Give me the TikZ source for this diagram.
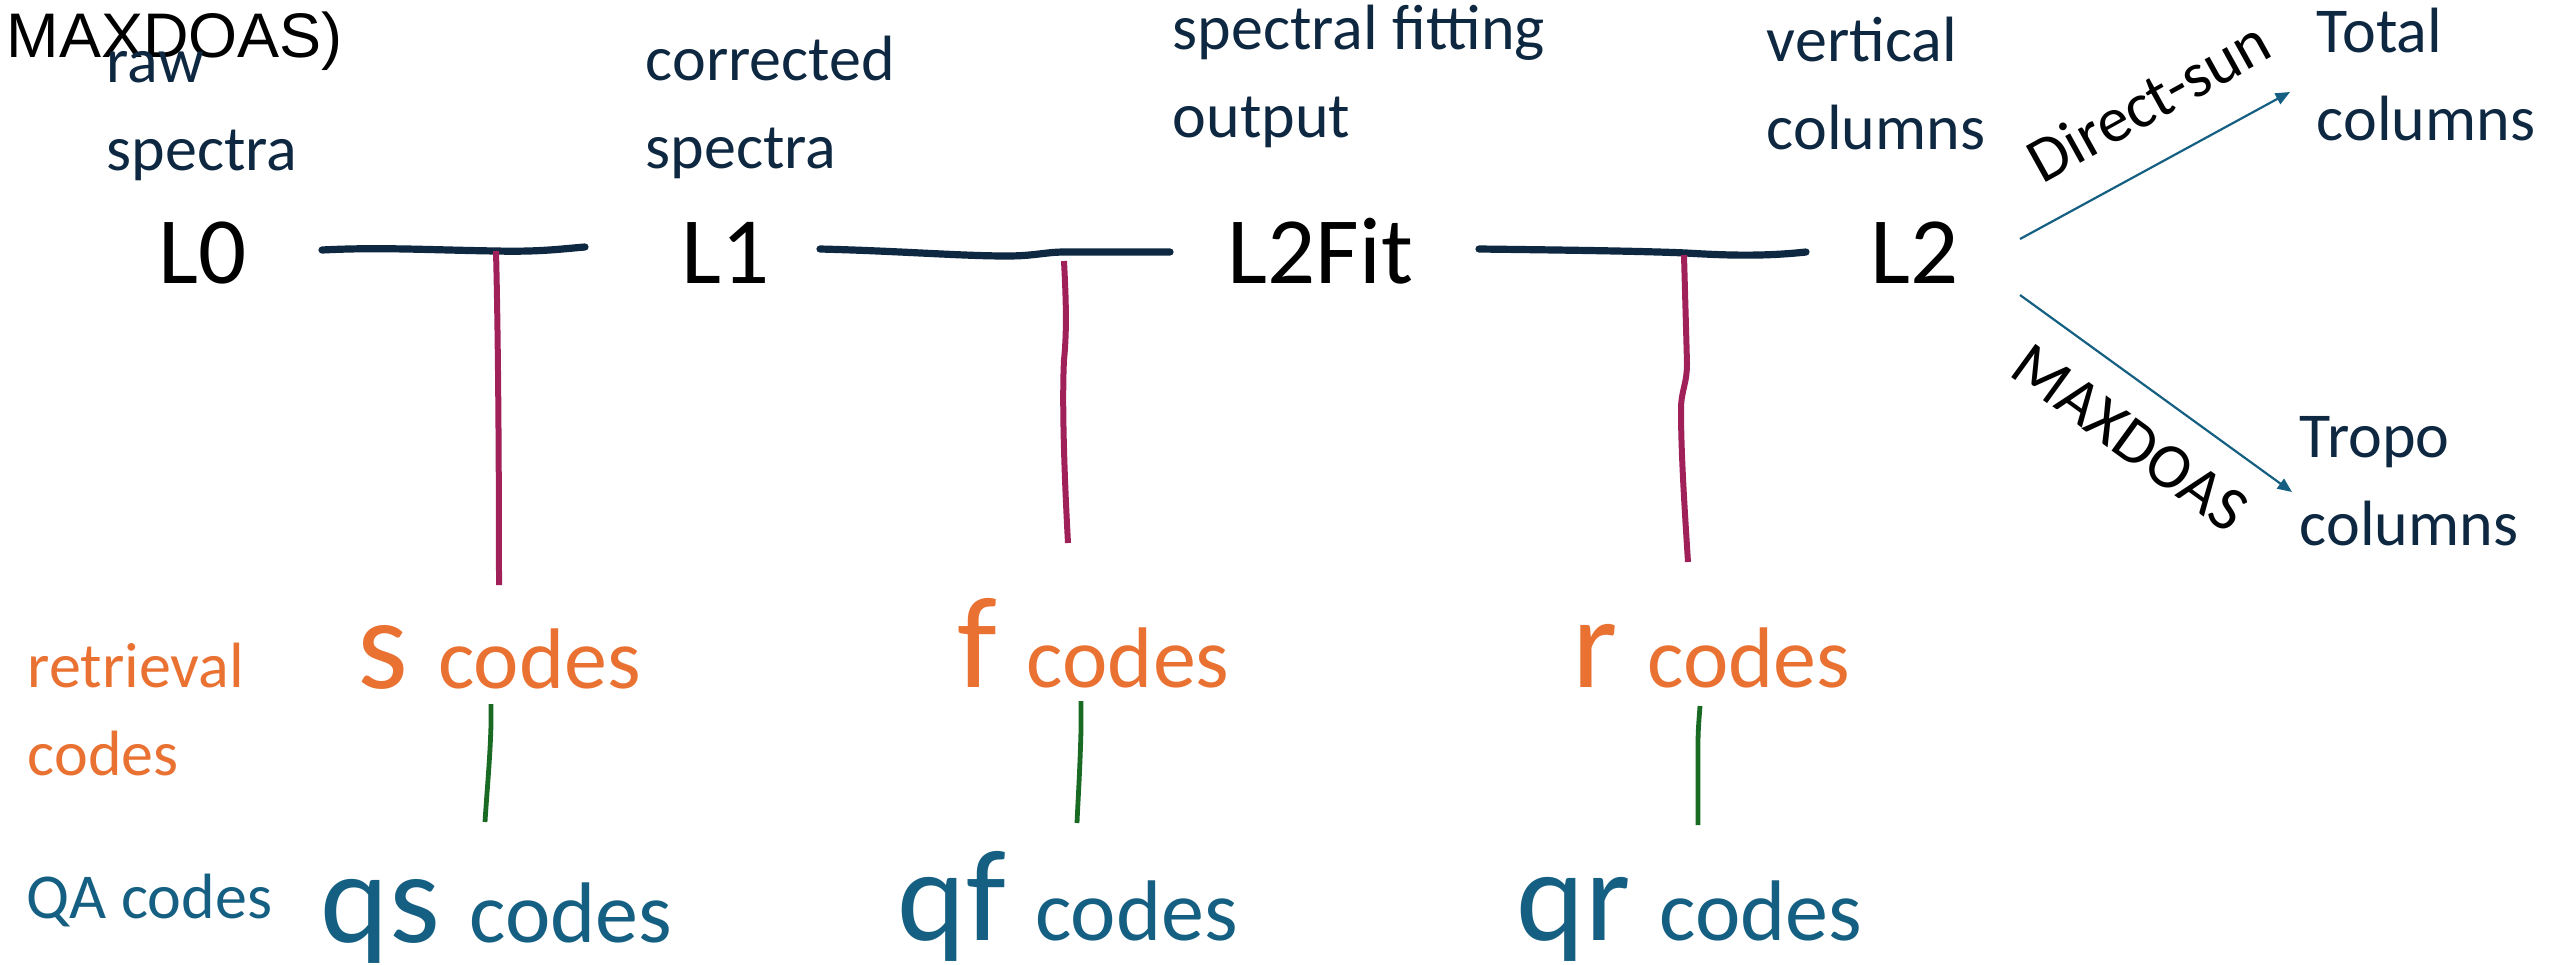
\documentclass[tikz,border=0pt]{standalone}
\usepackage{fontspec}
\setmainfont{Carlito}
\newfontfamily\arialfont{Liberation Sans}
\usetikzlibrary{arrows.meta}
\definecolor{navy}{HTML}{0E2841}
\definecolor{crim}{HTML}{A0215A}
\definecolor{grn}{HTML}{196B24}
\definecolor{orng}{HTML}{E97132}
\definecolor{teal}{HTML}{156082}
\newcommand\bigf{\fontsize{32.5}{38}\selectfont}
\newcommand\codef{\fontsize{21.5}{26}\selectfont}
\tikzset{
  lab/.style={anchor=base west, inner sep=0pt, align=left, text=navy, font=\fontsize{16}{22}\selectfont},
  lvl/.style={anchor=base west, inner sep=0pt, text=black, font=\fontsize{23.75}{28}\selectfont},
  rcode/.style={anchor=base west, inner sep=0pt, text=orng},
  qcode/.style={anchor=base west, inner sep=0pt, text=teal},
  navyline/.style={draw=navy, line width=1.8pt, line cap=round},
  crimline/.style={draw=crim, line width=1.5pt},
  grnline/.style={draw=grn, line width=1.2pt},
  arr/.style={draw=teal, line width=0.55pt, -{Triangle[length=3.6pt,width=3pt]}},
  rot/.style={inner sep=0pt, text=black, font=\fontsize{16}{20}\selectfont}
}
\begin{document}
\begin{tikzpicture}[x={(0.25pt,0pt)}, y={(0pt,-0.25pt)}]
\path[use as bounding box] (0,0) rectangle (2552,965);

% leftover title fragment
\node[anchor=base west, inner sep=0pt, font=\arialfont\fontsize{15.75}{18}\selectfont] (title) at (6,57) {MAXDOAS)};

% top labels (anchored at the baseline of their last line)
\node[lab] (rawlab) at (106,170) {raw\\spectra};
\node[lab] (corlab) at (645,168) {corrected\\spectra};
\node[lab] (fitlab) at (1172,137) {spectral fitting\\output};
\node[lab] (vclab) at (1766,149) {vertical\\columns};
\node[lab] (tot) at (2316,140) {Total\\columns};
\node[lab] (tro) at (2299,545) {Tropo\\columns};

% levels
\node[lvl] (L0) at (158,283) {L0};
\node[lvl] (L1) at (681,283) {L1};
\node[lvl] (L2Fit) at (1227,283) {L2Fit};
\node[lvl] (L2) at (1870,283) {L2};

% side labels
\node[lab, text=orng] (retlab) at (27,775) {retrieval\\codes};
\node[lab, text=teal] (qalab) at (26,918) {QA codes};

% code nodes
\node[rcode] (sc) at (357,688) {\bigf s \codef codes};
\node[rcode] (fc) at (957,687) {\bigf f \codef codes};
\node[rcode] (rc) at (1572,687) {\bigf r \codef codes};
\node[qcode] (qsc) at (320,942) {\bigf qs \codef codes};
\node[qcode] (qfc) at (897,940) {\bigf qf \codef codes};
\node[qcode] (qrc) at (1516,940) {\bigf qr \codef codes};

% connector coordinates
\coordinate (n1a) at (322,250);
\coordinate (j1) at (496,251);
\coordinate (n1b) at (585,247);
\coordinate (c1b) at (499,585);
\coordinate (n2a) at (820,249);
\coordinate (j2) at (1065,252);
\coordinate (n2b) at (1170,252);
\coordinate (c2b) at (1068,543);
\coordinate (n3a) at (1479,249);
\coordinate (j3) at (1686,253);
\coordinate (n3b) at (1806,252);
\coordinate (c3b) at (1688,562);
\coordinate (g1a) at (491,704);
\coordinate (g1b) at (485,822);
\coordinate (g2a) at (1081,701);
\coordinate (g2b) at (1077,823);
\coordinate (g3a) at (1700,706);
\coordinate (g3b) at (1698,825);
\coordinate (da) at (2020,239);
\coordinate (db) at (2290,92);
\coordinate (ma) at (2020,295);
\coordinate (mb) at (2292,492);

% navy T bars
\draw[navyline] (n1a) .. controls (380,247) and (430,250) .. (j1) .. controls (540,252) and (560,249) .. (n1b);
\draw[navyline] (n2a) .. controls (900,251) and (960,256) .. (1007,256) .. controls (1035,256) and (1045,252) .. (j2) -- (n2b);
\draw[navyline] (n3a) .. controls (1560,250) and (1640,251) .. (j3) .. controls (1720,255) and (1760,257) .. (n3b);

% crimson stems
\draw[crimline] (j1) .. controls (498,330) and (499,450) .. (c1b);
\draw[crimline] (1064,261) .. controls (1066,300) and (1067,330) .. (1064,360) .. controls (1062,400) and (1064,470) .. (c2b);
\draw[crimline] (1684,255) -- (1687,363) .. controls (1687,385) and (1681,390) .. (1681,410) .. controls (1681,450) and (1684,500) .. (c3b);

% green stems
\draw[grnline] (g1a) -- (491,725) .. controls (490,760) and (487,790) .. (g1b);
\draw[grnline] (g2a) -- (1081,730) .. controls (1080,770) and (1078,800) .. (g2b);
\draw[grnline] (g3a) .. controls (1699,720) and (1698,730) .. (1698,745) -- (g3b);

% arrows
\draw[arr] (da) -- (db);
\draw[arr] (ma) -- (mb);
\node[rot, rotate=29] (dslab) at (2148,101) {Direct-sun};
\node[rot, rotate=-36] (mxlab) at (2130,438) {MAXDOAS};
\end{tikzpicture}
\end{document}
